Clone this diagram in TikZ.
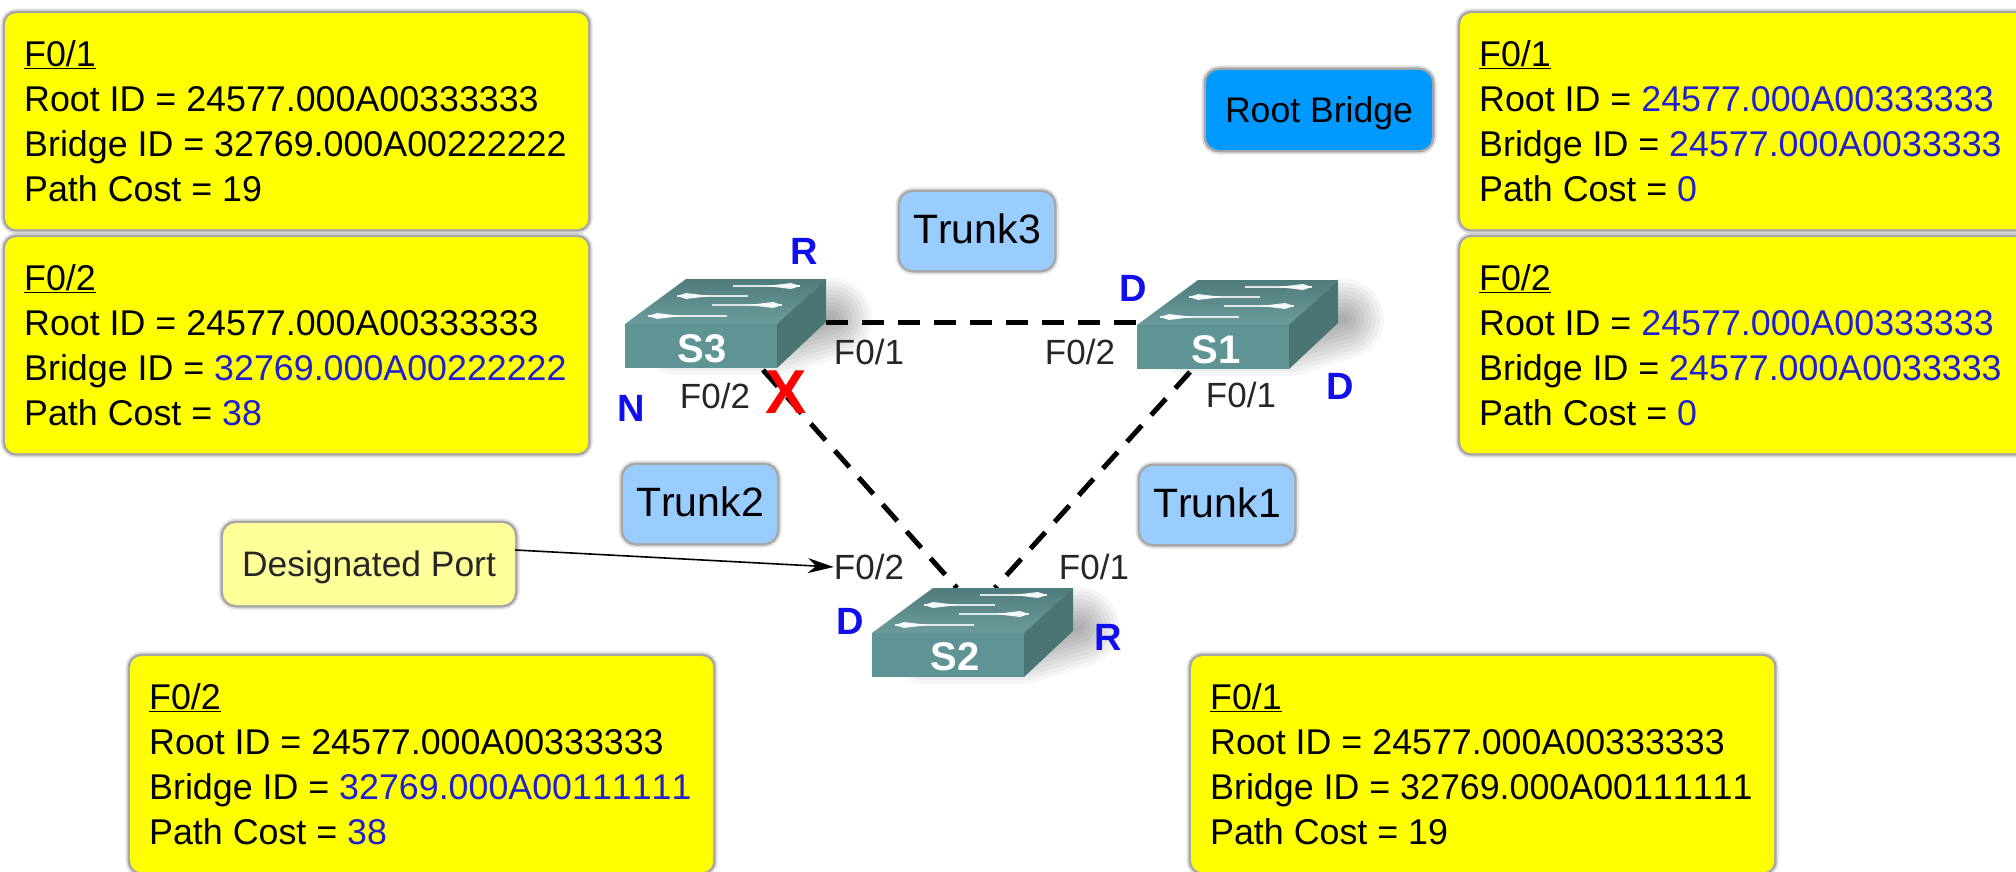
\documentclass[tikz,border=0pt]{standalone}
\usepackage{fontspec}
\setmainfont[Kerning=Off]{Liberation Sans}
\usetikzlibrary{arrows.meta}
\definecolor{infoyellow}{HTML}{FFFF00}
\definecolor{idblue}{HTML}{2020CC}
\definecolor{portblue}{HTML}{1010EE}
\definecolor{trunkblue}{HTML}{99CCFF}
\definecolor{rootblue}{HTML}{0099FF}
\definecolor{noteyellow}{HTML}{FFFF99}
\definecolor{swfront}{HTML}{5F9495}
\definecolor{swtopa}{HTML}{4E7C7B}
\definecolor{swtopb}{HTML}{6B9C9B}
\definecolor{swright}{HTML}{4B7573}
\newcommand{\idb}[1]{\textcolor{idblue}{#1}}
\newcommand{\boxhead}[1]{\hbox to 545pt{\underline{#1}\hfil}}
\newcommand{\swflow}[4]{% x1,x2,y,dir
  \draw[white,line width=1.3pt,opacity=.8] (#1,#3) -- (#2,#3);
  \fill[white,opacity=.9] (#2,#3) -- ++(#4*-9,-3) -- ++(#4*-25,3) -- ++(#4*25,3) -- cycle;
}
\tikzset{
  x=1pt,y=-1pt,
  softedge/.style={preaction={draw=black,opacity=.12,line width=9pt},preaction={draw=black,opacity=.25,line width=5pt}},
  infobox/.style={softedge,fill=infoyellow,rounded corners=11pt,anchor=north west,align=left,inner xsep=19pt,inner ysep=0pt,minimum height=216pt,font=\fontsize{35.8}{45}\selectfont,text=black},
  trunkbox/.style={softedge,fill=trunkblue,rounded corners=13pt,minimum width=154pt,minimum height=78pt,inner sep=0pt,text height=30pt,text depth=5pt,font=\fontsize{41}{45}\selectfont},
  portlabel/.style={inner sep=0pt,font=\fontsize{35}{40}\selectfont,text=black!85},
  statelabel/.style={inner sep=0pt,font=\fontsize{38}{40}\selectfont\bfseries,text=portblue},
  swlabel/.style={inner sep=0pt,font=\fontsize{40}{44}\selectfont\bfseries,text=white},
  trunkline/.style={line width=5pt,dash pattern=on 22pt off 14pt,black},
  switchbox/.pic={
    \foreach \w in {8,16,...,80}{
      \draw[black,opacity=.035,line width=\w pt,line join=round]
        (52,11) -- (152,11) -- (207,-6) -- cycle;
    }
    \shade[top color=swtopa,bottom color=swtopb] (0,0) -- (61,-45) -- (201,-45) -- (152,0) -- cycle;
    \fill[swfront] (0,0) rectangle (152,44);
    \fill[swright] (152,0) -- (201,-45) -- (201,-2) -- (152,44) -- cycle;
    \swflow{108}{175}{-38}{1}
    \swflow{123}{52}{-28}{-1}
    \swflow{87}{157}{-19}{1}
    \swflow{102}{23}{-8}{-1}
  }
}
\begin{document}
\begin{tikzpicture}
\useasboundingbox (0,0) rectangle (2016,872);
\clip (0,0) rectangle (2016,872);
\fill[white] (0,0) rectangle (2016,872);

% info boxes
\node[infobox] (tl1) at (5,13) {\boxhead{F0/1}\\Root ID = 24577.000A00333333\\Bridge ID = 32769.000A00222222\\Path Cost = 19};
\node[infobox] (tl2) at (5,237) {\boxhead{F0/2}\\Root ID = 24577.000A00333333\\Bridge ID = \idb{32769.000A00222222}\\Path Cost = \idb{38}};
\node[infobox] (tr1) at (1460,13) {\boxhead{F0/1}\\Root ID = \idb{24577.000A00333333}\\Bridge ID = \idb{24577.000A0033333}\\Path Cost = \idb{0}};
\node[infobox] (tr2) at (1460,237) {\boxhead{F0/2}\\Root ID = \idb{24577.000A00333333}\\Bridge ID = \idb{24577.000A0033333}\\Path Cost = \idb{0}};
\node[infobox] (bl) at (130,656) {\boxhead{F0/2}\\Root ID = 24577.000A00333333\\Bridge ID = \idb{32769.000A00111111}\\Path Cost = \idb{38}};
\node[infobox] (br) at (1191,656) {\boxhead{F0/1}\\Root ID = 24577.000A00333333\\Bridge ID = 32769.000A00111111\\Path Cost = 19};

% blue tags
\node[trunkbox] (trunk3) at (977,231) {Trunk3};
\node[trunkbox] (trunk2) at (700,504) {Trunk2};
\node[trunkbox] (trunk1) at (1217,505) {Trunk1};
\node[trunkbox,fill=rootblue,minimum width=226pt,minimum height=80pt,font=\fontsize{35.6}{40}\selectfont] (root) at (1319,110) {Root Bridge};
\node[trunkbox,fill=noteyellow,minimum width=292pt,minimum height=82pt,font=\fontsize{35.4}{40}\selectfont,text=black!85] (dp) at (369,564) {Designated Port};

% link ends
\coordinate (s3e) at (826,322);
\coordinate (s1w) at (1137,322);
\coordinate (s3s) at (763,370);
\coordinate (s2nw) at (957,588);
\coordinate (s1s) at (1190,372);
\coordinate (s2ne) at (995,588);

\draw[trunkline] (s3e) -- (s1w);
\draw[trunkline] (s3s) -- (s2nw);
\draw[trunkline] (s1s) -- (s2ne);

% switches
\pic at (625,324) {switchbox};
\pic at (1137,325) {switchbox};
\pic at (872,633) {switchbox};
\node[swlabel] (s3) at (702,349) {S3};
\node[swlabel] (s1) at (1216,350) {S1};
\node[swlabel] (s2) at (955,657) {S2};

% port labels
\node[portlabel] (p3a) at (869,352) {F0/1};
\node[portlabel] (p3b) at (715,396) {F0/2};
\node[portlabel] (p1a) at (1241,395) {F0/1};
\node[portlabel] (p1b) at (1080,352) {F0/2};
\node[portlabel] (p2a) at (1094,567) {F0/1};
\node[portlabel] (p2b) at (869,567) {F0/2};

% port states
\node[statelabel] (r3) at (804,251) {R};
\node[statelabel] (n3) at (631,408) {N};
\node[statelabel] (d1a) at (1133,288) {D};
\node[statelabel] (d1b) at (1340,386) {D};
\node[statelabel] (d2) at (850,621) {D};
\node[statelabel] (r2) at (1108,637) {R};

% blocked port
\node[inner sep=0pt,text=red,font=\fontsize{62}{64}\selectfont\bfseries] (block) at (786,392) {X};

\draw[-{Stealth[length=26pt,width=15pt]},line width=1.6pt,black] ([yshift=14pt]dp.east) -- (p2b.west);
\end{tikzpicture}
\end{document}
